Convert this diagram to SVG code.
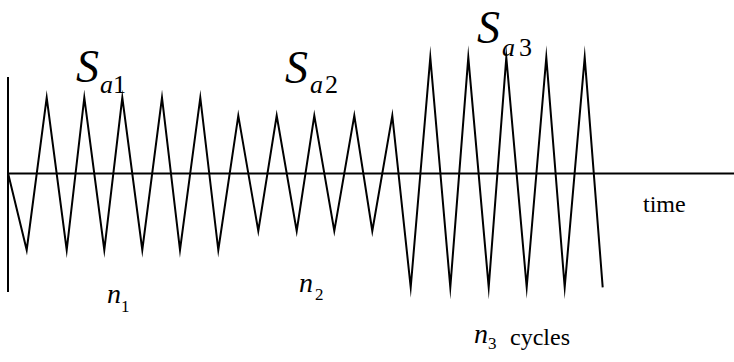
<svg xmlns="http://www.w3.org/2000/svg" width="734" height="362" viewBox="0 0 734 362" font-family="'Times New Roman', 'Liberation Serif', Tinos, serif">
<style>
.ln{fill:none;stroke:#000;stroke-width:2;stroke-linejoin:miter;stroke-miterlimit:20}
.lbl{font-family:'Times New Roman','Liberation Serif',Tinos,serif;fill:#000}
.it{font-style:italic}
</style>
<rect width="734" height="362" fill="#fff"/>
<g id="axes">
<line class="ln" x1="8" y1="77" x2="8" y2="292"/>
<line class="ln" x1="8" y1="173.5" x2="734" y2="173.5"/>
</g>
<g id="connectors">
<polyline class="ln" points="8,173 26.7,250 46.7,97.7 66.7,250 84.3,97.7 104.3,250 122.3,97.7 142.3,250 162,97.7 180,250 200.3,97.7 218.3,250 238.3,115.7 258.3,231 276.7,115.7 296.7,231 314.3,115.7 334.3,231 354.3,115.7 372.3,231 392.3,115.7 410.7,287.3 430.3,57.3 450.3,287.3 468.3,57.3 488.7,287.3 506.3,57.3 526.7,287.3 546.3,57.3 564.7,287.3 584.7,57.3 602.7,287.3"/>
</g>
<g id="label-sa1">
<text class="lbl it" x="76" y="82" font-size="46">S</text>
<text class="lbl it" x="100" y="93" font-size="26">a</text>
<text class="lbl" x="113" y="93" font-size="26">1</text>
</g>
<g id="label-sa2">
<text class="lbl it" x="285" y="82.5" font-size="46">S</text>
<text class="lbl it" x="310" y="93.3" font-size="26">a</text>
<text class="lbl" x="325" y="93.3" font-size="26">2</text>
</g>
<g id="label-sa3">
<text class="lbl it" x="477" y="42.5" font-size="46">S</text>
<text class="lbl it" x="502" y="56" font-size="26">a</text>
<text class="lbl" x="519" y="56" font-size="26">3</text>
</g>
<g id="label-n1">
<text class="lbl it" x="107" y="303.3" font-size="28">n</text>
<text class="lbl" x="121" y="311.7" font-size="17">1</text>
</g>
<g id="label-n2">
<text class="lbl it" x="299" y="291.7" font-size="28">n</text>
<text class="lbl" x="315" y="300" font-size="17">2</text>
</g>
<g id="label-n3">
<text class="lbl it" x="474" y="343.3" font-size="28">n</text>
<text class="lbl" x="488" y="349.3" font-size="17">3</text>
<text class="lbl" x="510" y="345" font-size="24">cycles</text>
</g>
<g id="label-time">
<text class="lbl" x="643" y="211.7" font-size="24">time</text>
</g>
</svg>
